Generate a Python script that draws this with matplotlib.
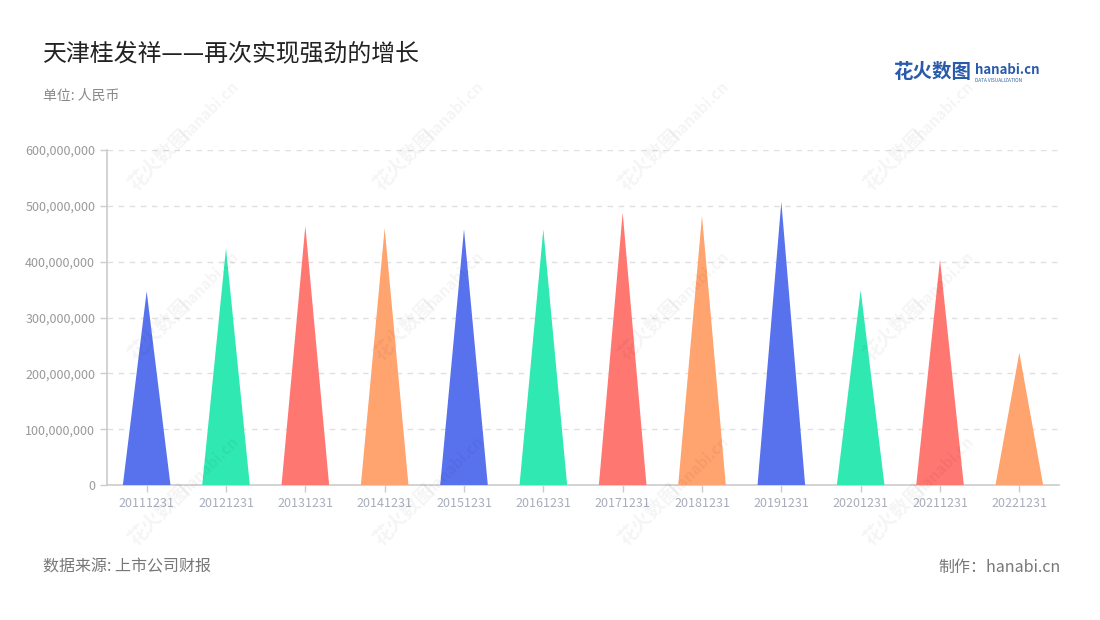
import matplotlib
matplotlib.use('Agg')
import matplotlib.pyplot as plt
from matplotlib.ticker import FuncFormatter
import numpy as np

plt.rcParams['font.family'] = ['Noto Sans CJK SC', 'DejaVu Sans']

# data (RMB)
years = ['20111231', '20121231', '20131231', '20141231', '20151231', '20161231',
         '20171231', '20181231', '20191231', '20201231', '20211231', '20221231']
values = [347e6, 424e6, 464e6, 460e6, 458e6, 458e6,
          488e6, 482e6, 507e6, 349e6, 404e6, 237e6]
colors = ['#5872EE', '#30E8B2', '#FF7771', '#FFA36F']

title = '天津桂发祥——再次实现强劲的增长'
unit = '单位: 人民币'
source = '数据来源: 上市公司财报'
maker = '制作：hanabi.cn'

fig = plt.figure(figsize=(11, 6.2), dpi=100)
ax = fig.add_axes([107/1100, 1-485/620, 952/1100, 335/620])

half = 0.3
for i, v in enumerate(values):
    ax.fill([i - half, i, i + half], [0, v, 0], color=colors[i % 4], lw=0, zorder=3)

ax.set_xlim(-0.5, len(years) - 0.5)
ax.set_ylim(0, 600e6)
ax.set_yticks(np.arange(0, 600e6 + 1, 100e6))
ax.yaxis.set_major_formatter(FuncFormatter(lambda v, p: '{:,.0f}'.format(v)))
ax.set_xticks(range(len(years)))
ax.set_xticklabels(years)

for y in np.arange(100e6, 600e6 + 1, 100e6):
    ax.axhline(y, color='#e0e0e0', lw=1, ls=(0, (4, 4)), zorder=1)

for s in ['top', 'right']:
    ax.spines[s].set_visible(False)
for s in ['left', 'bottom']:
    ax.spines[s].set_color('#cccccc')
    ax.spines[s].set_linewidth(1.2)
ax.tick_params(axis='y', colors='#cccccc', labelcolor='#999999', labelsize=9, length=5, width=1)
ax.tick_params(axis='x', colors='#cccccc', labelcolor='#a9adbb', labelsize=9, length=5, width=1)

# watermarks
for row_y in [160, 330, 515]:
    for col_x in [160, 405, 650, 895]:
        fig.text(col_x/1100, 1-row_y/620, '花火数图', fontsize=14, fontweight='bold',
                 color='#000000', alpha=0.045, rotation=45, ha='center', va='center', zorder=0)
        fig.text((col_x+50)/1100, 1-(row_y-50)/620, 'hanabi.cn', fontsize=11, fontweight='bold',
                 color='#000000', alpha=0.045, rotation=45, ha='center', va='center', zorder=0)

fig.text(43/1100, 1-55/620, title, fontsize=17.2, color='#222222', va='center')
fig.text(43/1100, 1-96/620, unit, fontsize=10, color='#888888', va='center')
fig.text(43/1100, 1-567/620, source, fontsize=11.5, color='#777777', va='center')
fig.text(1061/1100, 1-567/620, maker, fontsize=11.5, color='#777777', va='center', ha='right')

# logo
fig.text(893/1100, 1-73/620, '花火数图', fontsize=14, fontweight='bold', color='#2a5bab', va='center')
fig.text(975/1100, 1-70/620, 'hanabi.cn', fontsize=9.5, fontweight='bold', color='#2a5bab', va='center')
fig.text(975/1100, 1-80/620, 'DATA VISUALIZATION', fontsize=3.4, color='#2a5bab', va='center')

fig.savefig('out.png', dpi=100)
